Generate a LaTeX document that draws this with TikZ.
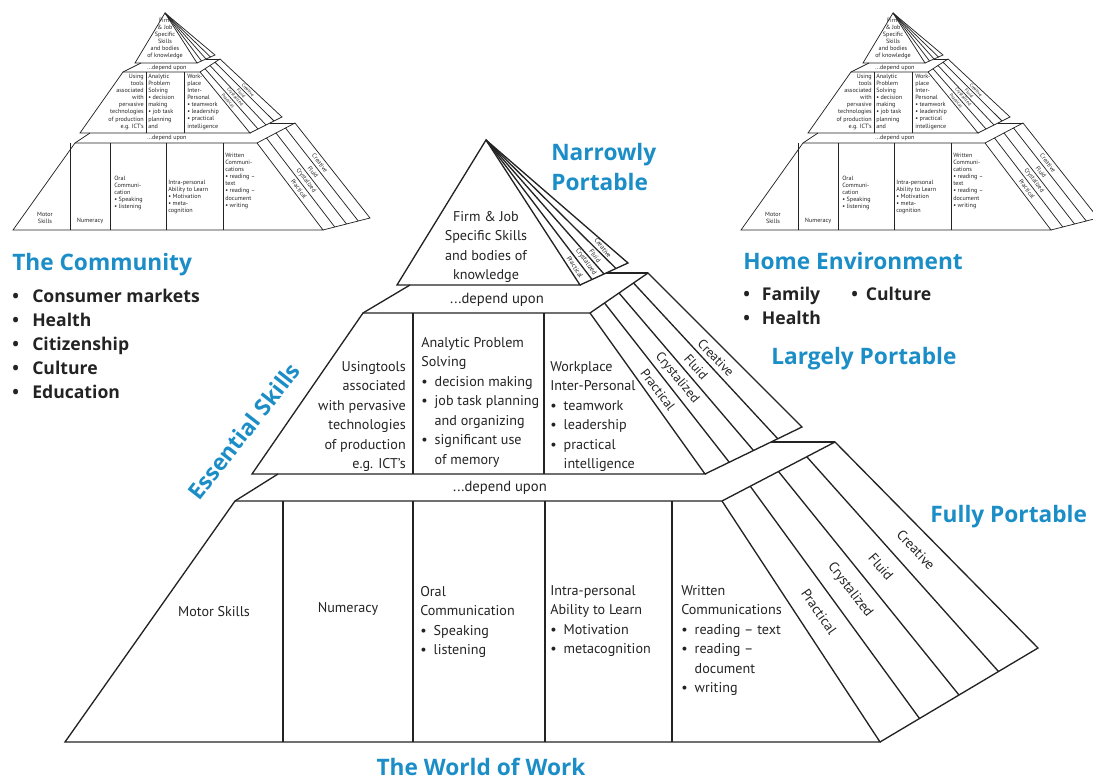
\documentclass[tikz,border=0pt]{standalone}
\usepackage{fontspec}
\setmainfont{PT Sans}
\newfontfamily\titlefont{Open Sans}
\usetikzlibrary{calc}
\definecolor{tblue}{RGB}{27,141,199}
\definecolor{ink}{RGB}{35,35,35}
\newcommand\bul{\textbullet\enspace}
\newcommand\ind{\hphantom{\textbullet\enspace}}

\newcommand\smallpyr[2]{%
\begin{scope}[shift={(#2,0)}]
 \coordinate (#1a) at (165,13);
 \coordinate (#1tl) at (135,63);
 \coordinate (#1t0) at (197,63);
 \coordinate (#1t4) at (215,55);
 \coordinate (#1ub) at (141,63);
 \coordinate (#1x1) at (206,59);
 \coordinate (#1mo1) at (220,59);
 \coordinate (#1ml1) at (123,72);
 \coordinate (#1mr1) at (200,72);
 \coordinate (#1ml2) at (80,133);
 \coordinate (#1mr2) at (250,133);
 \coordinate (#1mo2) at (282,117);
 \coordinate (#1lb) at (90,133);
 \coordinate (#1x2) at (270,123);
 \coordinate (#1bo1) at (295,123);
 \coordinate (#1bl1) at (75,143);
 \coordinate (#1br1) at (257,143);
 \coordinate (#1bl2) at (13,230);
 \coordinate (#1br2) at (323,230);
 \coordinate (#1bo2) at (370,218);
 \draw[sline] (#1tl) -- (#1a) -- (#1t0) -- cycle;
 \draw[sline] (#1t0) -- (#1t4) -- (#1a);
 \foreach \i in {1,2,3} \draw[sline] (#1a) -- ($(#1t0)!\i/4!(#1t4)$);
 \draw[sline] (#1ub) -- (#1ml1);
 \draw[sline] (#1x1) -- (#1mo1);
 \draw[sline] (#1ml1) -- (#1mr1) -- (#1mr2) -- (#1ml2) -- cycle;
 \draw[sline] (#1mr1) -- (#1mo1) -- (#1mo2) -- (#1mr2);
 \foreach \i in {1,2,3} \draw[sline] ($(#1mr1)!\i/4!(#1mo1)$) -- ($(#1mr2)!\i/4!(#1mo2)$);
 \draw[sline] (146,72) -- (146,133) (184,72) -- (184,133);
 \draw[sline] (#1lb) -- (#1bl1);
 \draw[sline] (#1x2) -- (#1bo1);
 \draw[sline] (#1bl1) -- (#1br1) -- (#1br2) -- (#1bl2) -- cycle;
 \draw[sline] (#1br1) -- (#1bo1) -- (#1bo2) -- (#1br2);
 \foreach \i in {1,2,3} \draw[sline] ($(#1br1)!\i/4!(#1bo1)$) -- ($(#1br2)!\i/4!(#1bo2)$);
 \draw[sline] (70,143) -- (70,230) (110,143) -- (110,230) (166,143) -- (166,230) (223,143) -- (223,230);
 \node[tiny,align=center,anchor=north] (#1firm) at (165,18) {Firm\\\& Job\\Specific\\Skills\\and bodies\\of knowledge};
 \node[tiny] (#1dep1) at (167,67.5) {...depend upon};
 \node[tiny] (#1dep2) at (167,138) {...depend upon};
 \node[tiny,align=right,anchor=north east] (#1c1) at (144,74) {Using\\tools\\associated\\with\\pervasive\\technologies\\of production\\e.g. ICT's};
 \node[tiny,align=left,anchor=north west] (#1c2) at (148,74) {Analytic\\Problem\\Solving\\\textbullet\ decision\\making\\\textbullet\ job task\\planning\\and};
 \node[tiny,align=left,anchor=north west] (#1c3) at (187,74) {Work-\\place\\Inter-\\Personal\\\textbullet\ teamwork\\\textbullet\ leadership\\\textbullet\ practical\\intelligence};
 \node[tiny,align=center] (#1motor) at (45,218) {Motor\\Skills};
 \node[tiny] (#1num) at (90,221) {Numeracy};
 \node[tiny,align=left,anchor=north west] (#1oral) at (114,176) {Oral\\Communi-\\cation\\\textbullet\ Speaking\\\textbullet\ listening};
 \node[tiny,align=left,anchor=north west] (#1intra) at (168,180) {Intra-personal\\Ability to Learn\\\textbullet\ Motivation\\\textbullet\ meta-\\cognition};
 \node[tiny,align=left,anchor=north west] (#1writ) at (225,153) {Written\\Communi-\\cations\\\textbullet\ reading --\\text\\\textbullet\ reading --\\document\\\textbullet\ writing};
 \node[tiny,rotate=-52] (#1bcr) at (320,163) {Creative};
 \node[tiny,rotate=-52] (#1bfl) at (313,172) {Fluid};
 \node[tiny,rotate=-53] (#1bcy) at (306,180.5) {Crystalized};
 \node[tiny,rotate=-53] (#1bpr) at (299,189) {Practical};
 \node[tinier,rotate=-47] (#1mcr) at (248,90) {Creative};
 \node[tinier,rotate=-47] (#1mfl) at (241,93.5) {Fluid};
 \node[tinier,rotate=-49] (#1mcy) at (235,97) {Crystalized};
 \node[tinier,rotate=-50] (#1mpr) at (228,100.7) {Practical};
\end{scope}}

\begin{document}
\begin{tikzpicture}[x=0.75pt,y=-0.75pt,
  pline/.style={draw=ink,line width=1pt,line join=miter},
  sline/.style={draw=ink,line width=0.55pt},
  body/.style={font=\fontsize{10.6}{14.6}\selectfont,text=ink,inner sep=0pt},
  strp/.style={font=\fontsize{9.8}{11}\selectfont,text=ink,inner sep=0pt},
  ttl/.style={font=\titlefont\fontsize{17}{22.5}\selectfont\bfseries,text=tblue,inner sep=0pt},
  lst/.style={font=\titlefont\fontsize{13.2}{18}\selectfont\bfseries,text=ink,inner sep=0pt},
  tiny/.style={font=\fontsize{4.6}{5.3}\selectfont,text=ink,inner sep=0pt},
  tinier/.style={font=\fontsize{3.5}{4}\selectfont,text=ink,inner sep=0pt},
  ]
\useasboundingbox (0,0) rectangle (1093,780);

% ---------- main pyramid ----------
\coordinate (A) at (486,140);
\coordinate (TL) at (397,285);
\coordinate (T0) at (580,285);
\coordinate (T4) at (628,263);
\coordinate (UB1) at (410,285);
\coordinate (X1) at (606,273);
\coordinate (MO1) at (648,273);
\coordinate (ML1) at (363,313);
\coordinate (MR1) at (590,313);
\coordinate (ML2) at (252,474);
\coordinate (MR2) at (705,474);
\coordinate (MO2) at (802,427);
\coordinate (LB1) at (278,474);
\coordinate (X2) at (771,442);
\coordinate (BO1) at (835,442);
\coordinate (BL1) at (235,501);
\coordinate (BR1) at (722,501);
\coordinate (BL2) at (65,742);
\coordinate (BR2) at (880,742);
\coordinate (BO2) at (1038,648);

\draw[pline] (TL) -- (A) -- (T0) -- cycle;
\draw[pline] (T0) -- (T4) -- (A);
\foreach \i in {1,2,3} \draw[pline] (A) -- ($(T0)!\i/4!(T4)$);
\draw[pline] (UB1) -- (ML1);
\draw[pline] (X1) -- (MO1);
\draw[pline] (ML1) -- (MR1) -- (MR2) -- (ML2) -- cycle;
\draw[pline] (MR1) -- (MO1) -- (MO2) -- (MR2);
\foreach \i in {1,2,3} \draw[pline] ($(MR1)!\i/4!(MO1)$) -- ($(MR2)!\i/4!(MO2)$);
\draw[pline] (413,313) -- (413,474) (544,313) -- (544,474);
\draw[pline] (LB1) -- (BL1);
\draw[pline] (X2) -- (BO1);
\draw[pline] (BL1) -- (BR1) -- (BR2) -- (BL2) -- cycle;
\draw[pline] (BR1) -- (BO1) -- (BO2) -- (BR2);
\foreach \i in {1,2,3} \draw[pline] ($(BR1)!\i/4!(BO1)$) -- ($(BR2)!\i/4!(BO2)$);
\draw[pline] (283,501) -- (283,742) (413,501) -- (413,742) (545,501) -- (545,742) (672,501) -- (672,742);

% texts main
\node[body,align=center,anchor=north] (firm) at (486,211) {Firm \& Job\\Specific Skills\\and bodies of\\knowledge};
\node[font=\fontsize{5}{5}\selectfont,text=ink,inner sep=0pt,rotate=-52] (tcr) at (603,248) {Creative};
\node[font=\fontsize{5}{5}\selectfont,text=ink,inner sep=0pt,rotate=-53] (tfl) at (595,256) {Fluid};
\node[font=\fontsize{5}{5}\selectfont,text=ink,inner sep=0pt,rotate=-55] (tcy) at (586,262) {Crystalized};
\node[font=\fontsize{5}{5}\selectfont,text=ink,inner sep=0pt,rotate=-57] (tpr) at (575,267) {Practical};
\node[body,font=\fontsize{11}{12}\selectfont] (dep1) at (497,300) {...depend upon};
\node[body,font=\fontsize{11}{12}\selectfont] (dep2) at (500,488) {...depend upon};

\node[body,align=right,anchor=north east] (tools) at (406,361) {Usingtools\\associated\\with pervasive\\technologies\\of production\\e.g. ICT's};
\node[body,align=left,anchor=north west] (anal) at (421,337) {Analytic Problem\\Solving\\\bul decision making\\\bul job task planning\\\ind and organizing\\\bul significant use\\\ind of memory};
\node[body,align=left,anchor=north west] (work) at (550,361) {Workplace\\Inter-Personal\\\bul teamwork\\\bul leadership\\\bul practical\\\ind intelligence};
\node[strp,rotate=-46] (mcr) at (716,358) {Creative};
\node[strp,rotate=-48.5] (mfl) at (696,367) {Fluid};
\node[strp,rotate=-50.5] (mcy) at (677,378) {Crystalized};
\node[strp,rotate=-53] (mpr) at (658,390) {Practical};

\node[body] (motor) at (214,612) {Motor Skills};
\node[body] (numer) at (348,609) {Numeracy};
\node[body,align=left,anchor=north west] (oral) at (420,586) {Oral\\Communication\\\bul Speaking\\\bul listening};
\node[body,align=left,anchor=north west] (intra) at (550,585) {Intra-personal\\Ability to Learn\\\bul Motivation\\\bul metacognition};
\node[body,align=left,anchor=north west] (writ) at (681,585) {Written\\Communications\\\bul reading -- text\\\bul reading --\\\ind document\\\bul writing};
\node[strp,font=\fontsize{10.4}{12}\selectfont,rotate=-47] (bcr) at (916,550) {Creative};
\node[strp,font=\fontsize{10.4}{12}\selectfont,rotate=-49.5] (bfl) at (881,567) {Fluid};
\node[strp,font=\fontsize{10.4}{12}\selectfont,rotate=-52.5] (bcy) at (850,590) {Crystalized};
\node[strp,font=\fontsize{10.4}{12}\selectfont,rotate=-55] (bpr) at (819,612) {Practical};

% ---------- titles ----------
\node[ttl,align=left,anchor=west] (narrow) at (551,167) {Narrowly\\Portable};
\node[ttl,anchor=west] (comm) at (12,265) {The Community};
\node[ttl,anchor=west] (home) at (743,261) {Home Environment};
\node[ttl,anchor=west] (large) at (771,359) {Largely Portable};
\node[ttl,anchor=west] (fully) at (930,517) {Fully Portable};
\node[ttl] (wow) at (481,767) {The World of Work};
\node[ttl,rotate=52] (ess) at (244,431) {Essential Skills};

\node[lst,align=left,anchor=north west] (clist) at (12,289) {\makebox[15pt][l]{\textbullet}Consumer markets\\\makebox[15pt][l]{\textbullet}Health\\\makebox[15pt][l]{\textbullet}Citizenship\\\makebox[15pt][l]{\textbullet}Culture\\\makebox[15pt][l]{\textbullet}Education};
\node[lst,align=left,anchor=north west] (hlist) at (743,287) {\makebox[14pt][l]{\textbullet}Family\\\makebox[14pt][l]{\textbullet}Health};
\node[lst,anchor=north west] (hcult) at (851,287) {\makebox[11pt][l]{\textbullet}Culture};

% ---------- small pyramids ----------
\smallpyr{L}{0}
\smallpyr{R}{728}
\end{tikzpicture}
\end{document}
